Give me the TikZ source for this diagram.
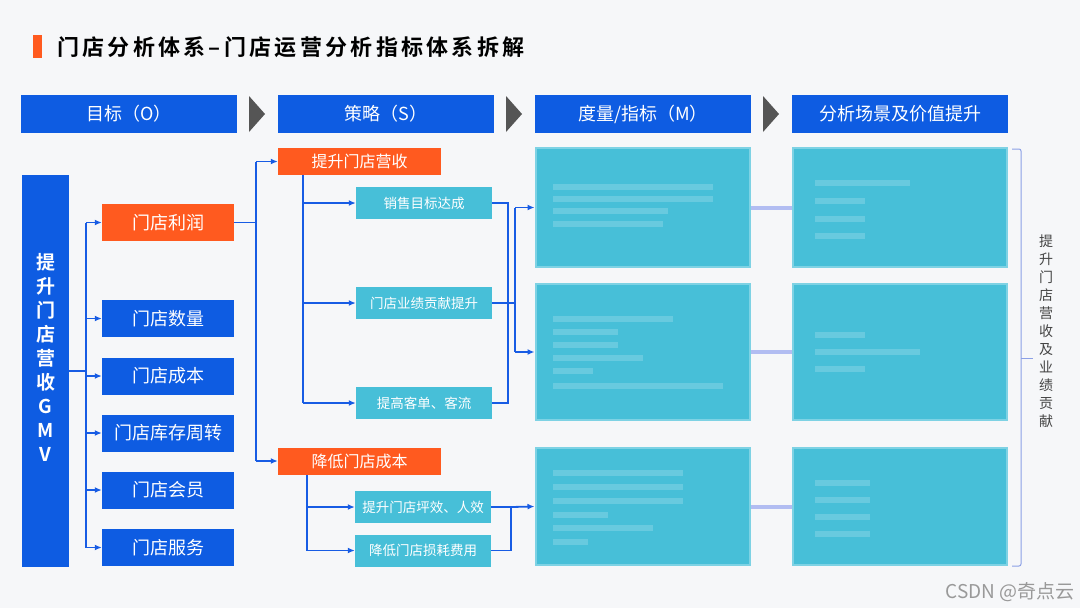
\documentclass[tikz,border=0pt]{standalone}
\usepackage{fontspec}
\setmainfont{Noto Sans CJK SC}
\newfontfamily\cjkb{Noto Sans CJK SC Bold}
\usetikzlibrary{arrows.meta,calc}
\definecolor{bgc}{RGB}{246,247,249}
\definecolor{hblue}{RGB}{14,92,226}
\definecolor{orng}{RGB}{255,90,31}
\definecolor{teal}{RGB}{71,191,216}
\definecolor{lnk}{RGB}{24,92,228}
\definecolor{lav}{RGB}{150,165,240}
\definecolor{gray}{RGB}{85,85,85}
\definecolor{brc}{RGB}{140,160,230}
\tikzset{
  base/.style={inner sep=0pt, text=white, anchor=center},
  hdr/.style={base, fill=hblue, minimum width=216pt, minimum height=38pt, font=\fontsize{18}{18}\selectfont},
  goal/.style={base, fill=hblue, minimum width=132pt, minimum height=37pt, font=\fontsize{18}{18}\selectfont},
  goalo/.style={goal, fill=orng},
  strat/.style={base, fill=orng, minimum width=163pt, minimum height=27pt, font=\fontsize{16}{16}\selectfont},
  sub/.style={base, fill=teal, minimum width=136pt, minimum height=32pt, font=\fontsize{13.5}{13.5}\selectfont},
  blur/.style={base, fill=teal, draw=teal!70!white, line width=2pt},
  conn/.style={draw=lnk, line width=1.8pt},
  arr/.style={conn, -{Latex[length=7pt,width=6pt]}},
  faint/.style={draw=lav, line width=4pt, opacity=0.7},
  bar/.style={fill=white, opacity=0.18},
}
\begin{document}
\begin{tikzpicture}[x=1pt,y=-1pt]
\fill[bgc] (0,0) rectangle (1080,608);
\useasboundingbox (0,0) rectangle (1080,608);
% title
\fill[orng] (33,35) rectangle (42,58);
\node[anchor=west, inner sep=0pt, text=black] (title) at (57,47) {\cjkb\fontsize{22}{22}\selectfont\addfontfeatures{LetterSpace=15}门店分析体系–门店运营分析指标体系拆解};
% headers
\node[hdr] (h1) at (129,114) {目标（O）};
\node[hdr] (h2) at (386,114) {策略（S）};
\node[hdr] (h3) at (643,114) {度量/指标（M）};
\node[hdr] (h4) at (900,114) {分析场景及价值提升};
\foreach \x in {249,506,763}{\fill[gray] (\x,96) -- (\x+16,114) -- (\x,132) -- cycle;}
% GMV
\node[base, fill=hblue, minimum width=47pt, minimum height=392pt] (gmv) at (45.5,371) {};
\node[base, align=center, font=\cjkb\fontsize{19}{24}\selectfont] (gmvt) at (45.5,357)
  {提\\升\\门\\店\\营\\收\\G\\M\\V};
% goals
\node[goalo] (g1) at (168,222.5) {门店利润};
\node[goal] (g2) at (168,318.5) {门店数量};
\node[goal] (g3) at (168,376) {门店成本};
\node[goal] (g4) at (168,433) {门店库存周转};
\node[goal] (g5) at (168,490) {门店会员};
\node[goal] (g6) at (168,547.5) {门店服务};
\coordinate (t1) at (86,371);
\draw[conn] (gmv.east) -- (t1);
\draw[conn] (t1 |- g1) -- (t1 |- g6);
\foreach \g in {g1,g2,g3,g4,g5,g6}{\draw[arr] (t1 |- \g) -- (\g.west);}
% strategies
\node[strat] (s1) at (359.5,161.5) {提升门店营收};
\node[strat] (s2) at (359.5,461) {降低门店成本};
\coordinate (t2) at (256,222.5);
\draw[conn] (g1.east) -- (t2);
\draw[conn] (t2 |- s1) -- (t2 |- s2);
\draw[arr] (t2 |- s1) -- (s1.west);
\draw[arr] (t2 |- s2) -- (s2.west);
% sub strategies revenue
\node[sub] (a1) at (424,203) {销售目标达成};
\node[sub] (a2) at (424,303) {门店业绩贡献提升};
\node[sub] (a3) at (424,403) {提高客单、客流};
\coordinate (t3) at (303,175);
\draw[conn] (t3) -- (t3 |- a3);
\foreach \a in {a1,a2,a3}{\draw[arr] (t3 |- \a) -- (\a.west);}
% sub strategies cost
\node[sub] (b1) at (423,507) {提升门店坪效、人效};
\node[sub] (b2) at (423,550.5) {降低门店损耗费用};
\coordinate (t4) at (307,475);
\draw[conn] (t4) -- (t4 |- b2);
\foreach \b in {b1,b2}{\draw[arr] (t4 |- \b) -- (\b.west);}
% metric boxes (blurred)
\node[blur, minimum width=214pt, minimum height=119pt] (m1) at (642.5,207.5) {};
\node[blur, minimum width=214pt, minimum height=136pt] (m2) at (642.5,352) {};
\node[blur, minimum width=214pt, minimum height=117pt] (m3) at (642.5,506.5) {};
\node[blur, minimum width=214pt, minimum height=119pt] (v1) at (900,207.5) {};
\node[blur, minimum width=214pt, minimum height=136pt] (v2) at (900,352) {};
\node[blur, minimum width=214pt, minimum height=117pt] (v3) at (900,506.5) {};
% faint blurred content bars
\foreach \y/\w in {187/160,199/160,211/115,224/110}{\fill[bar] (553,\y-3) rectangle (553+\w,\y+3);}
\foreach \y/\w in {183/95,201/50,219/50,236/50}{\fill[bar] (815,\y-3) rectangle (815+\w,\y+3);}
\foreach \y/\w in {319/120,332/65,345/65,358/90,371/40,386/170}{\fill[bar] (553,\y-3) rectangle (553+\w,\y+3);}
\foreach \y/\w in {335/50,352/105,369/50}{\fill[bar] (815,\y-3) rectangle (815+\w,\y+3);}
\foreach \y/\w in {473/130,487/130,501/130,515/55,528/100,542/35}{\fill[bar] (553,\y-3) rectangle (553+\w,\y+3);}
\foreach \y/\w in {483/55,500/55,517/55,534/55}{\fill[bar] (815,\y-3) rectangle (815+\w,\y+3);}
% merges into metrics
\coordinate (r1) at (508,303);
\draw[conn] (a1.east) -- (r1 |- a1) -- (r1 |- a3) -- (a3.east);
\coordinate (r2) at (515,303);
\draw[conn] (a2.east) -- (r2);
\draw[conn] (r2 |- m1) -- (r2 |- m2);
\draw[arr] (r2 |- m1) -- (m1.west);
\draw[arr] (r2 |- m2) -- (m2.west);
\coordinate (r3) at (511,507);
\draw[conn] (b1.east) -- (r3) -- (r3 |- b2) -- (b2.east);
\draw[arr] (r3) -- (m3.west);
% faint links metric -> scenario
\draw[faint] (m1.east) -- (v1.west);
\draw[faint] (m2.east) -- (v2.west);
\draw[faint] (m3.east) -- (v3.west);
% bracket
\coordinate (bt) at (1021,149);
\coordinate (bb) at (1021,566);
\coordinate (bm) at (1021,358);
\draw[brc, line width=1pt, rounded corners=2pt] (1012,149) -- (bt) -- (bb) -- (1012,566);
\draw[brc, line width=1pt] (bm) -- (1033,358);
\node[inner sep=0pt, text=gray!80!black, align=center, font=\fontsize{14}{18}\selectfont] (vt) at (1046,331)
  {提\\升\\门\\店\\营\\收\\及\\业\\绩\\贡\\献};
% watermark credit
\node[anchor=east, inner sep=0pt, text=gray!60!white, font=\fontsize{19}{19}\selectfont] (csdn) at (1075,592) {CSDN @奇点云};
\end{tikzpicture}
\end{document}
